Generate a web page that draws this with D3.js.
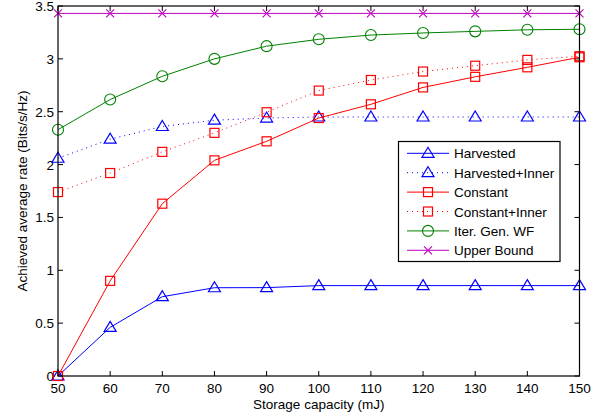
<!DOCTYPE html>
<html>
<head>
<meta charset="utf-8">
<script src="https://cdn.jsdelivr.net/npm/d3@7"></script>
<style>
  body { margin: 0; background: #fff; }
  text { font-family: "Liberation Sans", Arial, sans-serif; }
</style>
</head>
<body>
<div id="chart"></div>
<script>
// data
var capacity = [50, 60, 70, 80, 90, 100, 110, 120, 130, 140, 150];
var harvested = [0, 0.46, 0.75, 0.835, 0.836, 0.855, 0.855, 0.855, 0.855, 0.855, 0.855];
var harvestedInner = [2.06, 2.24, 2.36, 2.42, 2.44, 2.45, 2.45, 2.45, 2.45, 2.45, 2.45];
var constant = [0, 0.9, 1.63, 2.04, 2.22, 2.44, 2.57, 2.73, 2.83, 2.92, 3.015];
var constantInner = [1.74, 1.92, 2.12, 2.3, 2.495, 2.7, 2.8, 2.88, 2.935, 2.99, 3.025];
var iterWF = [2.33, 2.615, 2.835, 3.0, 3.12, 3.185, 3.225, 3.245, 3.26, 3.275, 3.28];
var upperBound = [3.43, 3.43, 3.43, 3.43, 3.43, 3.43, 3.43, 3.43, 3.43, 3.43, 3.43];
var seriesNames = ["Harvested", "Harvested+Inner", "Constant", "Constant+Inner", "Iter. Gen. WF", "Upper Bound"];
var yTicks = [0, 0.5, 1, 1.5, 2, 2.5, 3, 3.5];

function drawChart() {
    var width = 605, height = 420;
    var margin = {left: 58, right: 25.5, top: 6, bottom: 44};
    var fs = "13.5px";
    var svg = d3.select("#chart")
        .append("svg")
        .attr("width", width)
        .attr("height", height);

    var x = d3.scaleLinear().domain([50, 150]).range([margin.left, width - margin.right]);
    var y = d3.scaleLinear().domain([0, 3.5]).range([height - margin.bottom, margin.top]);

    var series = [
        {name: seriesNames[0], values: harvested, color: "#0000ff", dash: null, marker: "tri"},
        {name: seriesNames[1], values: harvestedInner, color: "#0000ff", dash: "1,4", marker: "tri"},
        {name: seriesNames[2], values: constant, color: "#ff0000", dash: null, marker: "sq"},
        {name: seriesNames[3], values: constantInner, color: "#ff0000", dash: "1,4", marker: "sq"},
        {name: seriesNames[4], values: iterWF, color: "#008000", dash: null, marker: "circ"},
        {name: seriesNames[5], values: upperBound, color: "#bf00bf", dash: null, marker: "x"}
    ];

    var x0 = margin.left, x1 = width - margin.right;
    var y0 = height - margin.bottom, y1 = margin.top;

    // ticks on all four sides, pointing inward
    var g = svg.append("g");
    capacity.forEach(function(v) {
        g.append("line").attr("x1", x(v)).attr("x2", x(v)).attr("y1", y0).attr("y2", y0 - 5)
            .attr("stroke", "#000");
        g.append("line").attr("x1", x(v)).attr("x2", x(v)).attr("y1", y1).attr("y2", y1 + 5)
            .attr("stroke", "#000");
        g.append("text").attr("x", x(v)).attr("y", y0 + 16.5)
            .attr("text-anchor", "middle").attr("font-size", fs).text(v);
    });
    yTicks.forEach(function(v) {
        g.append("line").attr("x1", x0).attr("x2", x0 + 5).attr("y1", y(v)).attr("y2", y(v))
            .attr("stroke", "#000");
        g.append("line").attr("x1", x1).attr("x2", x1 - 5).attr("y1", y(v)).attr("y2", y(v))
            .attr("stroke", "#000");
        g.append("text").attr("x", x0 - 4).attr("y", y(v) + 5)
            .attr("text-anchor", "end").attr("font-size", fs).text(v);
    });

    function drawMarker(sel, type, color, cx, cy) {
        if (type === "tri") {
            sel.append("path")
                .attr("d", "M" + cx + "," + (cy - 6) + "L" + (cx + 6) + "," + (cy + 4) + "L" + (cx - 6) + "," + (cy + 4) + "Z")
                .attr("fill", "none").attr("stroke", color).attr("stroke-width", 1.2);
        } else if (type === "sq") {
            sel.append("rect").attr("x", cx - 4.5).attr("y", cy - 4.5).attr("width", 9).attr("height", 9)
                .attr("fill", "none").attr("stroke", color).attr("stroke-width", 1.2);
        } else if (type === "circ") {
            sel.append("circle").attr("cx", cx).attr("cy", cy).attr("r", 5.5)
                .attr("fill", "none").attr("stroke", color).attr("stroke-width", 1.1);
        } else {
            sel.append("path")
                .attr("d", "M" + (cx - 4) + "," + (cy - 4) + "L" + (cx + 4) + "," + (cy + 4) +
                    "M" + (cx - 4) + "," + (cy + 4) + "L" + (cx + 4) + "," + (cy - 4))
                .attr("stroke", color).attr("stroke-width", 1.1);
        }
    }

    var line = d3.line()
        .x(function(d, i) { return x(capacity[i]); })
        .y(function(d) { return y(d); });

    series.forEach(function(s) {
        var sg = svg.append("g");
        sg.append("path")
            .attr("d", line(s.values))
            .attr("fill", "none")
            .attr("stroke", s.color)
            .attr("stroke-width", 1)
            .attr("stroke-dasharray", s.dash);
        s.values.forEach(function(v, i) {
            drawMarker(sg, s.marker, s.color, x(capacity[i]), y(v));
        });
    });

    // box
    svg.append("rect").attr("x", x0).attr("y", y1).attr("width", x1 - x0).attr("height", y0 - y1)
        .attr("fill", "none").attr("stroke", "#000").attr("stroke-width", 1.2);

    // legend
    var lg = svg.append("g");
    lg.append("rect").attr("x", 398.5).attr("y", 141.5).attr("width", 161.5).attr("height", 120)
        .attr("fill", "#fff").attr("stroke", "#000").attr("stroke-width", 1.2);
    series.forEach(function(s, i) {
        var ly = 153.3 + i * 19.4;
        lg.append("line").attr("x1", 407).attr("x2", 449).attr("y1", ly).attr("y2", ly)
            .attr("stroke", s.color).attr("stroke-width", 1)
            .attr("stroke-dasharray", s.dash);
        drawMarker(lg, s.marker, s.color, 428, ly);
        lg.append("text").attr("x", 454).attr("y", ly + 5).attr("font-size", fs).text(s.name);
    });

    // axis labels
    svg.append("text").attr("x", (x0 + x1) / 2).attr("y", 409)
        .attr("text-anchor", "middle").attr("font-size", fs).text("Storage capacity (mJ)");
    svg.append("text")
        .attr("transform", "translate(27," + ((y0 + y1) / 2) + ") rotate(-90)")
        .attr("text-anchor", "middle").attr("font-size", fs).text("Achieved average rate (Bits/s/Hz)");
}

drawChart();
</script>
</body>
</html>
